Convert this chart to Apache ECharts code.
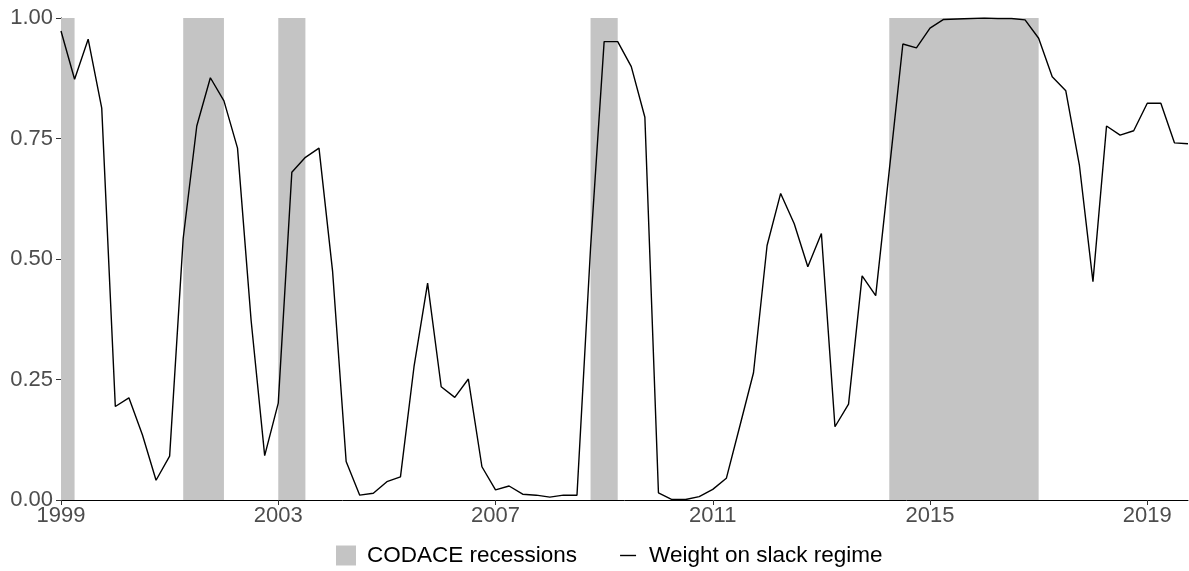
<!DOCTYPE html>
<html>
<head>
<meta charset="utf-8">
<script src="https://cdn.jsdelivr.net/npm/echarts@6/dist/echarts.min.js"></script>
<style>
  html, body { margin: 0; padding: 0; background: #ffffff; }
  #chart { width: 1189px; height: 571px; }
</style>
</head>
<body>
<div id="chart"></div>
<script>
// ---- Data ----
var startYear = 1999;          // first quarter of the series (1999 Q1)
var quarterStep = 0.25;
var weightOnSlack = [
  0.973, 0.873, 0.956, 0.813, 0.194, 0.212, 0.135, 0.041,
  0.091, 0.543, 0.776, 0.876, 0.828, 0.730, 0.373, 0.092,
  0.201, 0.680, 0.711, 0.730, 0.475, 0.080, 0.010, 0.014,
  0.038, 0.048, 0.277, 0.450, 0.235, 0.213, 0.251, 0.069,
  0.021, 0.029, 0.012, 0.010, 0.006, 0.010, 0.010, 0.523,
  0.951, 0.951, 0.899, 0.794, 0.015, 0.001, 0.001, 0.007,
  0.022, 0.045, 0.154, 0.264, 0.528, 0.636, 0.573, 0.484,
  0.553, 0.152, 0.199, 0.465, 0.424, 0.684, 0.946, 0.938,
  0.979, 0.997, 0.998, 0.999, 1.000, 0.999, 0.999, 0.996,
  0.958, 0.878, 0.849, 0.695, 0.453, 0.776, 0.757, 0.766,
  0.823, 0.823, 0.741, 0.739
];
var recessionStart = [1999.0, 2001.25, 2003.0, 2008.75, 2014.25];
var recessionEnd   = [1999.25, 2002.0, 2003.5, 2009.25, 2017.0];
var yTicks = [0, 0.25, 0.5, 0.75, 1];
var xTickYears = [1999, 2003, 2007, 2011, 2015, 2019];
var seriesLineName = 'Weight on slack regime';
var seriesBandName = 'CODACE recessions';

// ---- Build ----
var endOffset = (weightOnSlack.length - 1) * quarterStep;
var lineData = weightOnSlack.map(function (v, i) { return [i * quarterStep, v]; });
var bandData = recessionStart.map(function (s, i) {
  return [s - startYear, recessionEnd[i] - startYear];
});

var chart = echarts.init(document.getElementById('chart'), null, { renderer: 'canvas' });
var axisFont = 'Liberation Sans, Arial, sans-serif';

chart.setOption({
  animation: false,
  backgroundColor: '#ffffff',
  grid: { left: 61, right: 1, top: 18, bottom: 71, outerBoundsMode: 'none', containLabel: false },
  legend: {
    left: 336, top: 544, padding: 0,
    itemWidth: 20, itemHeight: 20, itemGap: 41,
    textStyle: { fontFamily: axisFont, fontSize: 22.5, color: '#000000', padding: [0, 0, 0, 6] },
    data: [
      { name: seriesBandName, icon: 'rect', itemStyle: { color: '#C4C4C4' } },
      { name: seriesLineName, icon: 'path://M0,0 M20,20 M2,9.3 L18,9.3 L18,10.7 L2,10.7 Z', itemStyle: { color: '#000000' } }
    ]
  },
  xAxis: {
    type: 'value',
    min: 0, max: endOffset, interval: 4,
    axisLine: { show: true, lineStyle: { color: '#000000', width: 1 } },
    axisTick: { show: true, length: 5, lineStyle: { color: '#333333', width: 1 } },
    axisLabel: {
      fontFamily: axisFont, fontSize: 22, color: '#4D4D4D', margin: 5,
      showMaxLabel: false,
      formatter: function (v) {
        var y = Math.round(v + startYear);
        return xTickYears.indexOf(y) >= 0 && Math.abs(v + startYear - y) < 1e-6 ? String(y) : '';
      }
    },
    splitLine: { show: false }
  },
  yAxis: {
    type: 'value',
    min: 0, max: 1, interval: 0.25,
    axisLine: { show: true, lineStyle: { color: '#000000', width: 1 } },
    axisTick: { show: true, length: 5, lineStyle: { color: '#333333', width: 1 } },
    axisLabel: {
      fontFamily: axisFont, fontSize: 22, color: '#4D4D4D', margin: 8,
      formatter: function (v) { return yTicks.indexOf(v) >= 0 ? v.toFixed(2) : ''; }
    },
    splitLine: { show: false }
  },
  series: [
    {
      name: seriesBandName,
      type: 'custom',
      itemStyle: { color: '#C4C4C4' },
      renderItem: function (params, api) {
        var p0 = api.coord([api.value(0), 1]);
        var p1 = api.coord([api.value(1), 0]);
        return {
          type: 'rect',
          shape: { x: p0[0], y: p0[1], width: p1[0] - p0[0], height: p1[1] - p0[1] },
          style: { fill: '#C4C4C4' }
        };
      },
      encode: { x: [0, 1], y: [] },
      data: bandData,
      z: 1
    },
    {
      name: seriesLineName,
      type: 'line',
      data: lineData,
      showSymbol: false,
      symbol: 'none',
      lineStyle: { color: '#000000', width: 1.4 },
      itemStyle: { color: '#000000' },
      z: 3
    }
  ]
});
</script>
</body>
</html>
